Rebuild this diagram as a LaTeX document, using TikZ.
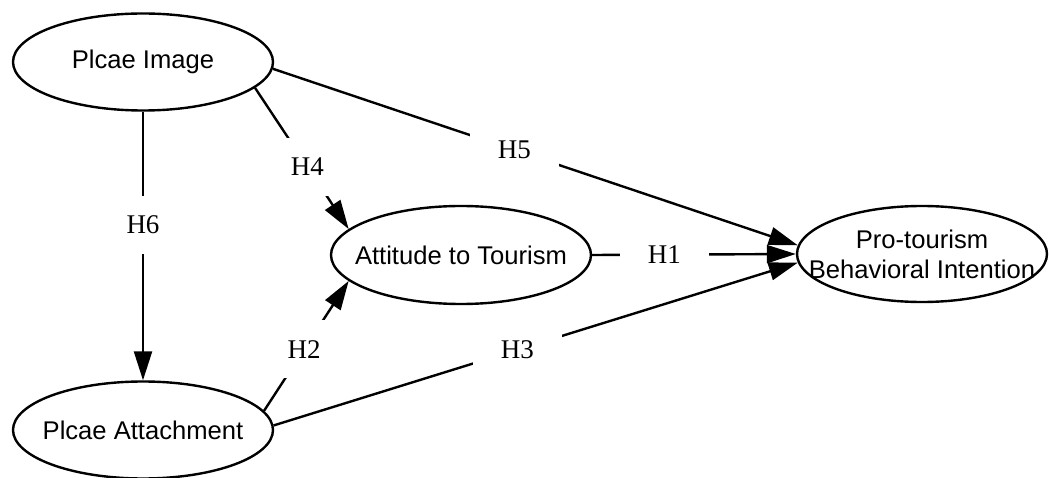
\documentclass[tikz,border=0pt]{standalone}
\usepackage{fontspec}
\setmainfont{Liberation Serif}
\setsansfont{Liberation Sans}
\usetikzlibrary{arrows.meta,shapes.geometric}
\begin{document}
\begin{tikzpicture}[x=1pt,y=-1pt,
  construct/.style={ellipse,draw,line width=2.4pt,inner xsep=-45pt,inner ysep=0pt,
    minimum width=260pt,minimum height=97pt,align=center,
    font=\sffamily\fontsize{25.6}{30}\selectfont},
  edge/.style={line width=2.4pt},
  arr/.style={edge,-{Triangle[length=29pt,width=18pt]}},
  hyp/.style={fill=white,inner sep=0pt,minimum width=89pt,minimum height=58pt,
    font=\rmfamily\fontsize{27}{30}\selectfont}]
\useasboundingbox (0,0) rectangle (1049,478);
\node[construct] (pi) at (143,62) {Plcae Image};
\node[construct] (pa) at (143,430) {Plcae Attachment};
\node[construct,minimum height=98pt] (at) at (461,255) {Attitude to Tourism};
\node[construct,minimum width=250pt,minimum height=96pt] (pt) at (922,254) {Pro-tourism\\Behavioral Intention};
\draw[arr] (pi.south) -- node[hyp,pos=0.42] {H6} (pa.north);
\draw[arr] (pi.-13) -- node[hyp,pos=0.56] {H4} (at.167);
\draw[arr] (pa.9) -- node[hyp,pos=0.475] {H2} (at.193);
\draw[arr] (pi.-3) -- node[hyp,pos=0.46] {H5} (pt.176);
\draw[arr] (at.east) -- node[hyp,pos=0.355] {H1} (pt.west);
\draw[arr] (pa.2) -- node[hyp,pos=0.465] {H3} (pt.184);
\end{tikzpicture}
\end{document}
